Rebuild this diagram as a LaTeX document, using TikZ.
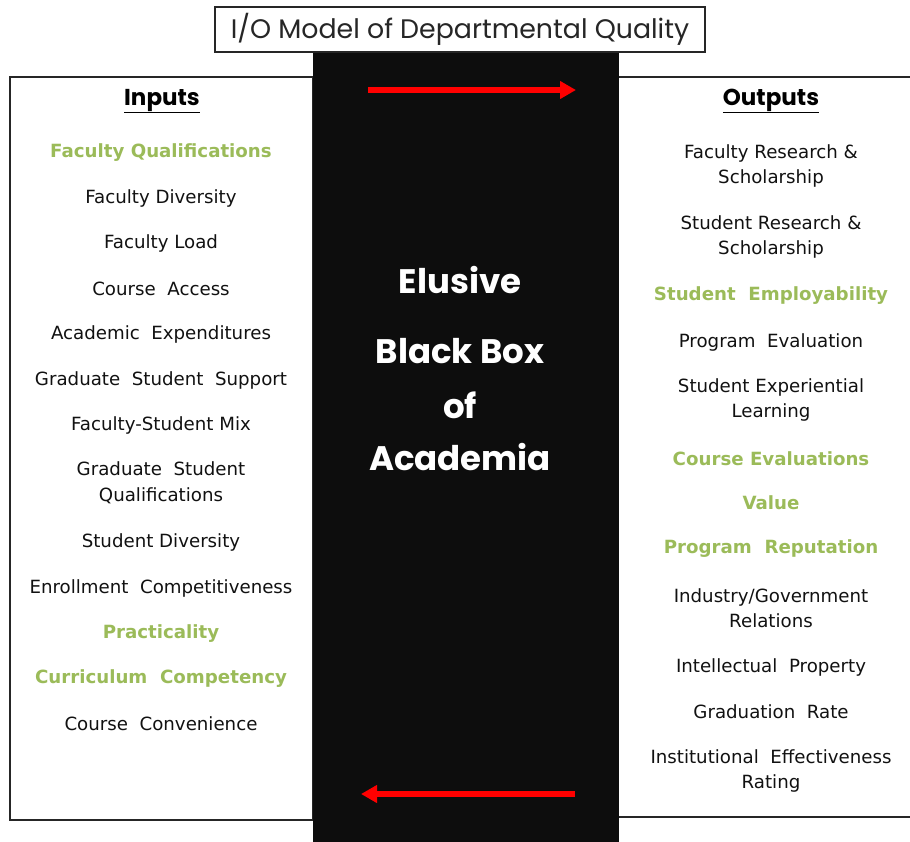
\documentclass[tikz,border=0pt]{standalone}
\usepackage{fontspec}
\setmainfont{DejaVu Sans}
\newfontfamily\titlefont{Poppins}
\newfontfamily\headfont{Poppins}[UprightFont=*-Bold]
\usetikzlibrary{arrows.meta}
\definecolor{boxblack}{HTML}{0D0D0D}
\definecolor{olive}{HTML}{9BBB59}
\definecolor{arrowred}{HTML}{FF0000}
\definecolor{txt}{HTML}{111111}
\tikzset{
  item/.style={font=\fontsize{18.2}{25.5}\selectfont, text=txt, align=center, inner sep=0pt, yshift=-1pt},
  key/.style={font=\bfseries\fontsize{18.2}{25.5}\selectfont, text=olive, align=center, inner sep=0pt, yshift=-1pt},
  head/.style={font=\headfont\fontsize{23}{25}\selectfont, text=black, inner sep=0pt},
  bb/.style={font=\headfont\fontsize{34}{36}\selectfont, text=white, inner sep=0pt},
  flow/.style={draw=arrowred, line width=5.5pt, -{Triangle[length=16pt,width=17pt]}},
  frame/.style={draw=black!85, line width=1.3pt}
}
\begin{document}
\begin{tikzpicture}[x=1pt,y=-1pt]
\useasboundingbox (0,0) rectangle (910,841);
% side boxes
\draw[frame, fill=white] (10,77) rectangle (313,820);
\draw[frame, fill=white] (619,77) -- (912,77) (619,817) -- (912,817);
% black box
\fill[boxblack] (313,52) rectangle (619,845);
% title
\node[frame, fill=white, minimum width=490pt, minimum height=45pt, inner sep=0pt,
      font=\titlefont\fontsize{26.8}{30}\selectfont, text=black!85] (title) at (460,29.5)
      {I/O Model of Departmental Quality};
% arrows
\coordinate (a1s) at (368,90);
\coordinate (a1e) at (576,90);
\coordinate (a2s) at (575,794);
\coordinate (a2e) at (361,794);
\draw[flow] (a1s) -- (a1e);
\draw[flow] (a2s) -- (a2e);
% black box text
\node[bb] (bb1) at (460,280) {Elusive};
\node[bb] (bb2) at (460,351) {Black Box};
\node[bb] (bb3) at (460,405) {of};
\node[bb] (bb4) at (460,457) {Academia};
% inputs
\node[head] (inh) at (162,101) {\underline{Inputs}};
\node[key] (i1) at (161,152) {Faculty Qualifications};
\node[item] (i2) at (161,197) {Faculty Diversity};
\node[item] (i3) at (161,242) {Faculty Load};
\node[item] (i4) at (161,288) {Course\ \ Access};
\node[item] (i5) at (161,333) {Academic\ \ Expenditures};
\node[item] (i6) at (161,379) {Graduate\ \ Student\ \ Support};
\node[item] (i7) at (161,424) {Faculty-Student Mix};
\node[item] (i8) at (161,482) {Graduate\ \ Student\\Qualifications};
\node[item] (i9) at (161,541) {Student Diversity};
\node[item] (i10) at (161,587) {Enrollment\ \ Competitiveness};
\node[key] (i11) at (161,633) {Practicality};
\node[key] (i12) at (161,678) {Curriculum\ \ Competency};
\node[item] (i13) at (161,723) {Course\ \ Convenience};
% outputs
\node[head] (outh) at (771,101) {\underline{Outputs}};
\node[item] (o1) at (771,165) {Faculty Research \&\\Scholarship};
\node[item] (o2) at (771,236) {Student Research \&\\Scholarship};
\node[key] (o3) at (771,295) {Student\ \ Employability};
\node[item] (o4) at (771,341) {Program\ \ Evaluation};
\node[item] (o5) at (771,399) {Student Experiential\\Learning};
\node[key] (o6) at (771,458) {Course Evaluations};
\node[key] (o7) at (771,502) {Value};
\node[key] (o8) at (771,548) {Program\ \ Reputation};
\node[item] (o9) at (771,607) {Industry/Government\\Relations};
\node[item] (o10) at (771,666) {Intellectual\ \ Property};
\node[item] (o11) at (771,711) {Graduation\ \ Rate};
\node[item] (o12) at (771,770) {Institutional\ \ Effectiveness\\Rating};
\end{tikzpicture}
\end{document}
